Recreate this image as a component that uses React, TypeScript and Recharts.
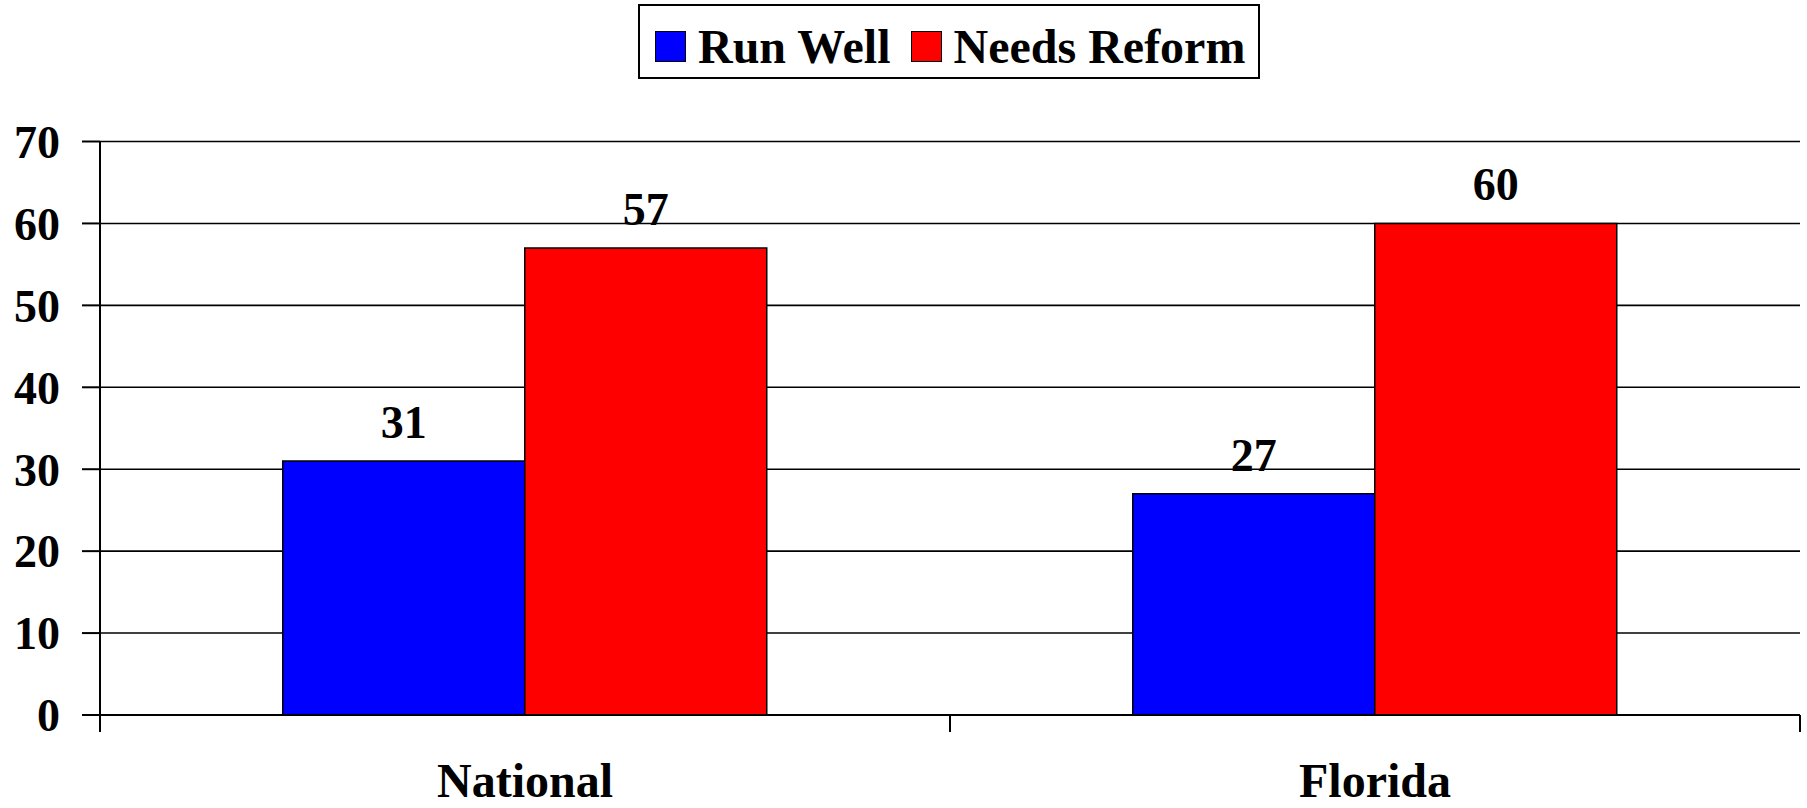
import React from 'react';
import { BarChart, Bar, XAxis, YAxis, CartesianGrid, Legend, LabelList, ReferenceLine } from 'recharts';

const categories = ['National', 'Florida'];
const runWell = [31, 27];
const needsReform = [57, 60];
const yTicks = [0, 10, 20, 30, 40, 50, 60, 70];
const seriesNames = ['Run Well', 'Needs Reform'];
const seriesKeys = ['runWell', 'needsReform'];
const seriesColors = ['#0000FF', '#FF0000'];
const edgeDomain = [0, categories.length];

const data = categories.map((c, i) => ({ category: c, runWell: runWell[i], needsReform: needsReform[i] }));

const FONT = '"Liberation Serif", "Times New Roman", Times, serif';
const FS = 46;
const FS_BIG = 48;

const CategoryTick = (props: any) => {
  const { x, y, payload, width, index } = props;
  const half = payload && typeof payload.offset === 'number' && payload.offset > 0
    ? payload.offset
    : width / (2 * categories.length);
  const isLast = index === categories.length - 1;
  return (
    <g>
      <line x1={x - half} x2={x - half} y1={y} y2={y + 17} stroke="#000" strokeWidth={2} />
      {isLast && <line x1={x + half} x2={x + half} y1={y} y2={y + 17} stroke="#000" strokeWidth={2} />}
      <text x={x} y={y + 82} textAnchor="middle" fontFamily={FONT} fontWeight="bold" fontSize={FS_BIG} fill="#000">
        {payload.value}
      </text>
    </g>
  );
};

const LegendBox = () => (
  <div style={{ height: 138 }}>
    <div
      style={{
        boxSizing: 'border-box',
        width: 622,
        height: 75,
        border: '2px solid #000',
        display: 'flex',
        alignItems: 'flex-start',
        paddingLeft: 15,
        paddingTop: 14,
        fontFamily: FONT,
        fontWeight: 'bold',
        fontSize: FS_BIG,
        lineHeight: '53px',
        background: '#fff',
        color: '#000',
      }}
    >
      {seriesNames.map((n, i) => (
        <div key={n} style={{ display: 'flex', alignItems: 'flex-start', marginRight: 20 }}>
          <span
            style={{
              display: 'inline-block',
              width: 31,
              height: 31,
              marginTop: 11,
              background: seriesColors[i],
              border: '1.5px solid #000',
              boxSizing: 'border-box',
              marginRight: 12,
            }}
          />
          <span style={{ whiteSpace: 'nowrap' }}>{n}</span>
        </div>
      ))}
    </div>
  </div>
);

export default function App() {
  return (
    <div style={{ position: 'absolute', left: 0, top: 0, width: 1807, height: 808, background: '#fff' }}>
      <BarChart
        width={1807}
        height={808}
        data={data}
        margin={{ top: 3.5, right: 7, bottom: 0, left: 0 }}
        barCategoryGap="21.5%"
        barGap={0}
      >
        <Legend
          verticalAlign="top"
          align="left"
          content={<LegendBox />}
          wrapperStyle={{ top: 3.5, left: 638, width: 622 }}
        />
        <CartesianGrid vertical={false} stroke="#000" strokeWidth={1.6} />
        <XAxis
          dataKey="category"
          height={93}
          axisLine={{ stroke: '#000', strokeWidth: 2 }}
          tickLine={false}
          tickSize={0}
          tickMargin={0}
          tick={<CategoryTick />}
          interval={0}
        />
        <XAxis xAxisId="edge" type="number" domain={edgeDomain} hide />
        <YAxis
          domain={[0, 70]}
          ticks={yTicks}
          interval={0}
          width={100}
          tickSize={18}
          tickMargin={22}
          axisLine={{ stroke: '#000', strokeWidth: 2 }}
          tickLine={{ stroke: '#000', strokeWidth: 2 }}
          tick={{ fontFamily: FONT, fontWeight: 'bold', fontSize: FS, fill: '#000' }}
        />
        <ReferenceLine xAxisId="edge" x={edgeDomain[1]} stroke="#000" strokeWidth={2} />
        {seriesKeys.map((k, i) => (
          <Bar key={k} dataKey={k} name={seriesNames[i]} fill={seriesColors[i]} stroke="#000" strokeWidth={1.5} isAnimationActive={false}>
            <LabelList
              dataKey={k}
              position="top"
              offset={23}
              fontFamily={FONT}
              fontWeight="bold"
              fontSize={FS}
              fill="#000"
            />
          </Bar>
        ))}
      </BarChart>
    </div>
  );
}
